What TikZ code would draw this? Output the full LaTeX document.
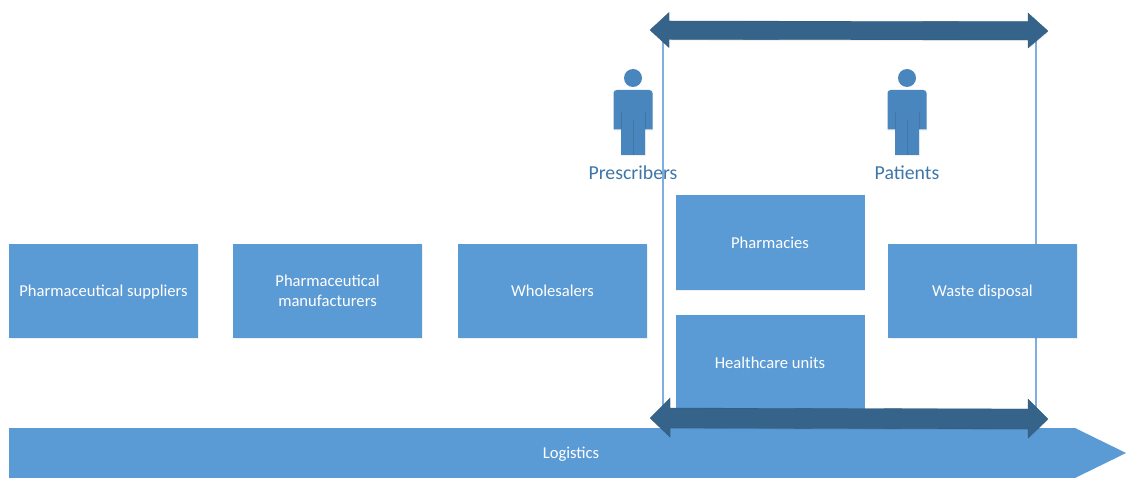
\documentclass[tikz,border=0pt]{standalone}
\usepackage{fontspec}
\setmainfont{Carlito}
\usetikzlibrary{shadows}
\definecolor{boxblue}{HTML}{5B9BD5}
\definecolor{darkarrow}{HTML}{366389}
\definecolor{personblue}{HTML}{4A86BE}
\definecolor{persontext}{HTML}{3F76A8}
\definecolor{frameblue}{HTML}{7FAEE0}
\tikzset{
  x=1pt,y=-1pt,
  softshadow/.style={general shadow={shadow xshift=0.6pt,shadow yshift=-1.2pt,fill=black,fill opacity=0.06}},
  stagebox/.style={fill=boxblue,text=white,align=center,inner sep=0pt,minimum width=189pt,minimum height=94.5pt,font=\fontsize{16.6}{20}\selectfont,softshadow},
  framerule/.style={draw=frameblue,line width=1.1pt},
  bigarrow/.style={fill=darkarrow,draw=darkarrow!90!black,line width=0.3pt,softshadow},
  personlabel/.style={text=persontext,inner sep=0pt,font=\fontsize{19.8}{22}\selectfont},
}
\newcommand{\personfig}[1]{%
  \fill[personblue] (#1,78) circle (9);
  \fill[personblue,softshadow] (#1-19.5,129.5) -- (#1-19.5,93) .. controls (#1-19.5,91) and (#1-18,90) .. (#1-16,90) -- (#1+16,90) .. controls (#1+18,90) and (#1+19.5,91) .. (#1+19.5,93) -- (#1+19.5,129.5) -- (#1+12,129.5) -- (#1+12,155) -- (#1-12,155) -- (#1-12,129.5) -- cycle;
  \draw[personblue!88!black,line width=0.4pt] (#1,120) -- (#1,155);
  \draw[personblue!88!black,line width=0.4pt] (#1-12,112) -- (#1-12,129.5) (#1+12,112) -- (#1+12,129.5);
}
\begin{document}
\begin{tikzpicture}
\useasboundingbox (0,0) rectangle (1126,478);
% frame lines
\coordinate (tl) at (663,30);
\coordinate (bl) at (663,418);
\coordinate (tr) at (1036,30);
\coordinate (br) at (1036,418);
\draw[framerule] (tl) -- (bl);
\draw[framerule] (tr) -- (br);
% logistics arrow
\fill[boxblue] (9,428) -- (1075,428) -- (1126,453) -- (1075,478) -- (9,478) -- cycle;
\node[text=white,inner sep=0pt,font=\fontsize{16.6}{20}\selectfont] (logistics) at (571,454) {Logistics};
% boxes
\node[stagebox] (suppliers) at (103.5,291) {\raisebox{0pt}[\height][0pt]{Pharmaceutical suppliers}};
\node[stagebox] (manufacturers) at (327.5,291) {Pharmaceutical\\manufacturers};
\node[stagebox] (wholesalers) at (552.5,291) {Wholesalers};
\node[stagebox] (pharmacies) at (770,242.5) {Pharmacies};
\node[stagebox] (healthcare) at (770,362.5) {Healthcare units};
\node[stagebox] (waste) at (982.5,291) {\raisebox{0pt}[\height][0pt]{Waste disposal}};
% persons
\personfig{633}
\personfig{907}
\node[personlabel] (prescribers) at (633,173) {Prescribers};
\node[personlabel] (patients) at (907,173) {Patients};
% double arrows
\path[bigarrow] (650,30) -- (669,12.5) -- (669,21) -- (1028,21.5) -- (1028,13) -- (1048,31) -- (1028,48) -- (1028,40) -- (669,39.5) -- (669,47.5) -- cycle;
\path[bigarrow] (650,418) -- (670,398) -- (670,408) -- (1028,409) -- (1028,399) -- (1048,419) -- (1028,438) -- (1028,429) -- (670,428) -- (670,437) -- cycle;
\end{tikzpicture}
\end{document}
